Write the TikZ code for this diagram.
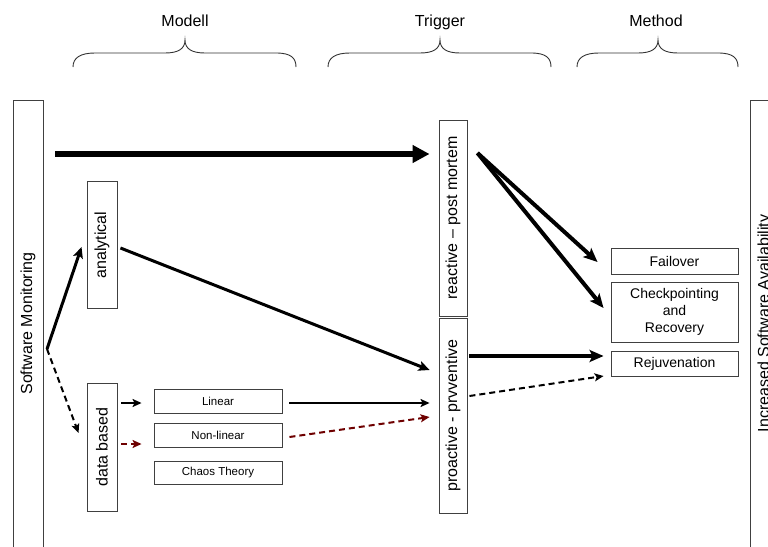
\documentclass[tikz,border=0pt]{standalone}
\usepackage{fontspec}
\setmainfont{Liberation Sans}
\usetikzlibrary{arrows.meta}
\definecolor{dred}{RGB}{110,0,0}
\begin{document}
\begin{tikzpicture}[x=1pt,y=-1pt,
  box/.style={draw=black!75, line width=0.9pt, inner sep=0pt},
  vbox/.style={box, font=\fontsize{16}{19}\selectfont},
  mbox/.style={box, font=\fontsize{14}{17}\selectfont, align=center, minimum width=127pt},
  sbox/.style={box, font=\fontsize{11.5}{14}\selectfont, minimum width=128pt},
  lbl/.style={font=\fontsize{16}{19}\selectfont, anchor=base, inner sep=0pt},
  brace/.style={draw=black!80, line width=0.9pt},
  asix/.style={line width=6pt, -{Triangle[length=17pt,width=17pt]}},
  afour/.style={line width=4pt, -{Stealth[length=14pt,width=12pt,inset=3pt]}},
  athree/.style={line width=3pt, -{Stealth[length=11pt,width=10pt,inset=2.5pt]}},
  atwo/.style={line width=2pt, -{Stealth[length=9pt,width=8pt,inset=2pt]}},
  dsh/.style={dash pattern=on 6pt off 4pt}
]
\path[use as bounding box] (0,0) rectangle (768,546);
\clip (0,0) rectangle (768,546);

% labels and braces
\node[lbl] (lmod) at (185,27) {Modell};
\node[lbl] (ltrig) at (440,27) {Trigger};
\node[lbl] (lmeth) at (656,27) {Method};
\draw[brace] (73,67) .. controls (73,58) and (80,53) .. (95,53) -- (165,53)
  .. controls (178,53) and (185,49) .. (185,40) .. controls (185,49) and (192,53) .. (205,53)
  -- (276,53) .. controls (291,53) and (296,58) .. (296,67);
\draw[brace] (328,67) .. controls (328,58) and (335,53) .. (350,53) -- (420,53)
  .. controls (433,53) and (440,49) .. (440,40) .. controls (440,49) and (447,53) .. (460,53)
  -- (531,53) .. controls (546,53) and (551,58) .. (551,67);
\draw[brace] (577,67) .. controls (577,58) and (584,53) .. (599,53) -- (638,53)
  .. controls (651,53) and (658,49) .. (658,40) .. controls (658,49) and (665,53) .. (678,53)
  -- (718,53) .. controls (733,53) and (738,58) .. (738,67);

% side boxes
\node[vbox, minimum width=30pt, minimum height=447pt] (mon) at (28,323.5) {\rotatebox{90}{Software Monitoring}};
\node[vbox, minimum width=30pt, minimum height=447pt] (avail) at (765,323.5) {\rotatebox{90}{Increased Software Availability}};

% model
\node[vbox, minimum width=30pt, minimum height=127pt] (ana) at (102,245) {\rotatebox{90}{analytical}};
\node[vbox, minimum width=30pt, minimum height=128pt] (data) at (102,447) {\rotatebox{90}{data based}};
\node[sbox, minimum height=24pt] (lin) at (218,401) {Linear};
\node[sbox, minimum height=24pt] (nlin) at (218,435) {Non-linear};
\node[sbox, minimum height=23pt] (chaos) at (218,472.5) {Chaos Theory};

% trigger
\node[vbox, minimum width=28pt, minimum height=196pt] (reac) at (453,218) {\rotatebox{90}{reactive -- post mortem}};
\node[vbox, minimum width=28pt, minimum height=195pt] (proa) at (453,415.5) {\rotatebox{90}{proactive - prvventive}};

% method
\node[mbox, minimum height=26pt] (fail) at (674.5,261) {Failover};
\node[mbox, minimum height=60pt] (chk) at (674.5,312) {Checkpointing\\and\\Recovery};
\node[mbox, minimum height=25pt] (rej) at (674.5,363.5) {Rejuvenation};

% connectors
\coordinate (topstart) at (55,154);
\coordinate (J) at (47,349);
\draw[asix] (topstart) -- ([xshift=-9pt,yshift=64pt]reac.west);
\draw[athree] (J) -- ([xshift=-5pt,yshift=-2pt]ana.west);
\draw[atwo, dsh] (J) -- ([xshift=-8pt,yshift=14pt]data.west);
\draw[athree] ([xshift=3pt,yshift=-3pt]ana.east) -- ([xshift=-9pt,yshift=45.5pt]proa.west);
\draw[atwo] ([xshift=4pt,yshift=44pt]data.east) -- ([xshift=-12pt,yshift=-2pt]lin.west);
\draw[atwo, dsh, dred] ([xshift=4pt,yshift=3pt]data.east) -- ([xshift=-12pt,yshift=-9pt]nlin.west);
\draw[atwo] ([xshift=7pt,yshift=-2pt]lin.east) -- ([xshift=-9pt,yshift=12.5pt]proa.west);
\draw[atwo, dsh, dred] ([xshift=7pt,yshift=-2pt]nlin.east) -- ([xshift=-9pt,yshift=-1.5pt]proa.west);
\draw[afour] ([xshift=10pt,yshift=65pt]reac.east) -- ([xshift=-13pt,yshift=-1pt]fail.west);
\draw[afour] ([xshift=10pt,yshift=65pt]reac.east) -- ([xshift=-7pt,yshift=4pt]chk.west);
\draw[afour] ([xshift=2pt,yshift=59.5pt]proa.east) -- ([xshift=-7pt,yshift=7.5pt]rej.west);
\draw[atwo, dsh] ([xshift=2pt,yshift=19.5pt]proa.east) -- ([xshift=-7pt,yshift=-12.5pt]rej.west);
\end{tikzpicture}
\end{document}
